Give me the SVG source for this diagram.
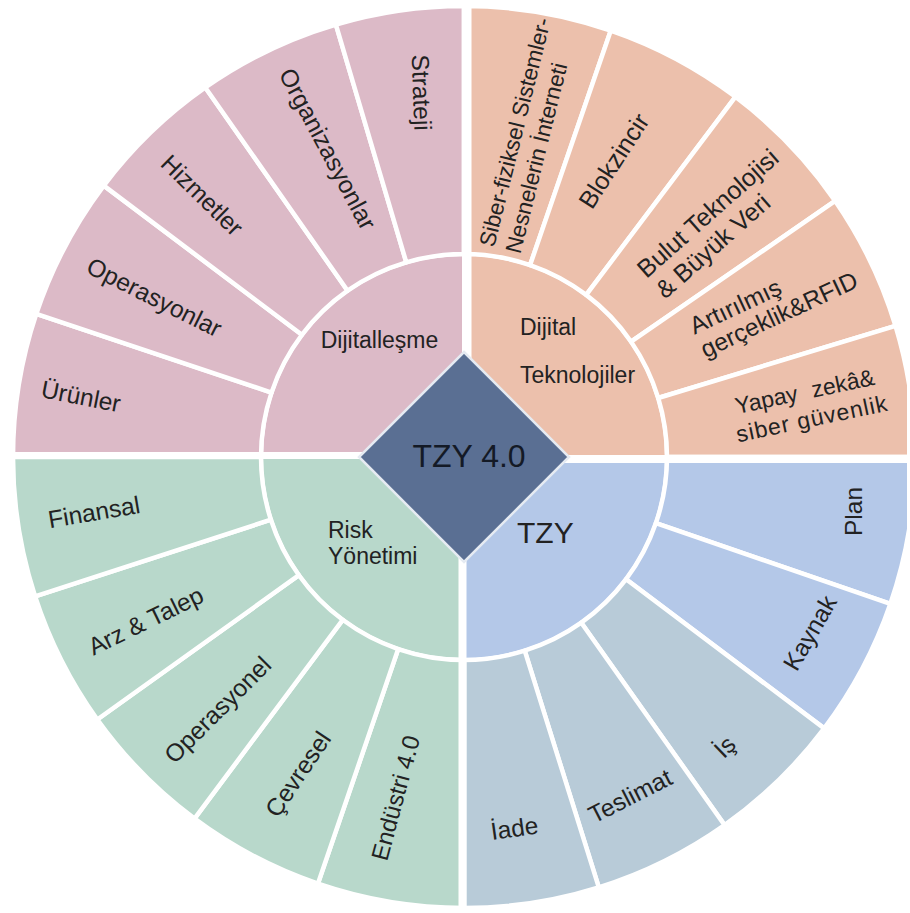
<svg xmlns="http://www.w3.org/2000/svg" width="910" height="913" viewBox="0 0 910 913">
  <defs>
    <style>
      .seg { stroke: #ffffff; stroke-width: 4.5; stroke-linejoin: round; }
      .core { stroke: #ffffff; stroke-width: 4; }
      .pink { fill: #dcbac7; }
      .peach { fill: #ecc0ac; }
      .green { fill: #b8d8cb; }
      .blue { fill: #b4c8e8; }
      .slate { fill: #b8cbd8; }
      text { font-family: "Liberation Sans", Arial, sans-serif; fill: #222222; }
      .lbl { font-size: 24.5px; }
      .hub { font-size: 23px; }
      .gap { stroke: #ffffff; fill: none; }
    </style>
    <clipPath id="frame">
      <rect x="0" y="0" width="907" height="913"/>
    </clipPath>
  </defs>

  <rect x="0" y="0" width="910" height="913" fill="#ffffff"/>

  <g id="wheel" clip-path="url(#frame)">
    <!-- Dijitalleşme quadrant -->
    <g id="dijitallesme">
      <path class="core pink" d="M464,457 L261,457 A203,203 0 0 1 464,254 Z"/>
      <text class="hub" x="379.5" y="348" text-anchor="middle">Dijitalleşme</text>
    </g>
    <g id="urunler">
      <path class="seg pink" d="M261,457 L13,457 A451,451 0 0 1 36.3,313.9 L271.5,392.6 A203,203 0 0 0 261,457 Z"/>
      <text class="lbl" transform="translate(40,397) rotate(11)">Ürünler</text>
    </g>
    <g id="operasyonlar">
      <path class="seg pink" d="M271.5,392.6 L36.3,313.9 A451,451 0 0 1 103.8,185.6 L301.9,334.8 A203,203 0 0 0 271.5,392.6 Z"/>
      <text class="lbl" transform="translate(84.8,272.1) rotate(26.5)">Operasyonlar</text>
    </g>
    <g id="hizmetler">
      <path class="seg pink" d="M301.9,334.8 L103.8,185.6 A451,451 0 0 1 205.3,87.5 L347.6,290.7 A203,203 0 0 0 301.9,334.8 Z"/>
      <text class="lbl" transform="translate(159.3,165) rotate(44.5)">Hizmetler</text>
    </g>
    <g id="organizasyonlar">
      <path class="seg pink" d="M347.6,290.7 L205.3,87.5 A451,451 0 0 1 335.9,24.6 L406.3,262.4 A203,203 0 0 0 347.6,290.7 Z"/>
      <text class="lbl" transform="translate(278.3,74.1) rotate(62)">Organizasyonlar</text>
    </g>
    <g id="strateji">
      <path class="seg pink" d="M406.3,262.4 L335.9,24.6 A451,451 0 0 1 464,6 L464,254 A203,203 0 0 0 406.3,262.4 Z"/>
      <text class="lbl" transform="translate(411.7,54.8) rotate(88)">Strateji</text>
    </g>

    <!-- Dijital Teknolojiler quadrant -->
    <g id="dijital-teknolojiler">
      <path class="core peach" d="M464,457 L464,254 A203,203 0 0 1 667,457 Z"/>
      <text class="hub" x="520" y="335">Dijital</text>
      <text class="hub" x="520" y="383">Teknolojiler</text>
    </g>
    <g id="siber-fiziksel">
      <path class="seg peach" d="M464,254 L464,6 A451,451 0 0 1 610.8,30.6 L530.1,265.1 A203,203 0 0 0 464,254 Z"/>
      <text style="font-size:22.5px" transform="translate(494,248) rotate(-76)">
        <tspan x="0" y="0">Siber-fiziksel  Sistemler-</tspan>
        <tspan x="0" y="27">Nesnelerin İnterneti</tspan>
      </text>
    </g>
    <g id="blokzincir">
      <path class="seg peach" d="M530.1,265.1 L610.8,30.6 A451,451 0 0 1 735.4,96.8 L586.2,294.9 A203,203 0 0 0 530.1,265.1 Z"/>
      <text style="font-size:25px" transform="translate(591.9,210.6) rotate(-57)">Blokzincir</text>
    </g>
    <g id="bulut">
      <path class="seg peach" d="M586.2,294.9 L735.4,96.8 A451,451 0 0 1 835.2,200.9 L631.1,341.7 A203,203 0 0 0 586.2,294.9 Z"/>
      <text style="font-size:25px" transform="translate(646.4,278.9) rotate(-41.5)">
        <tspan x="0" y="0">Bulut Teknolojisi</tspan>
        <tspan x="0" y="28">&amp; Büyük Veri</tspan>
      </text>
    </g>
    <g id="artirilmis">
      <path class="seg peach" d="M631.1,341.7 L835.2,200.9 A451,451 0 0 1 895.5,325.9 L658.2,398 A203,203 0 0 0 631.1,341.7 Z"/>
      <text class="lbl" transform="translate(694.6,334.7) rotate(-25)">
        <tspan x="0" y="0">Artırılmış</tspan>
        <tspan x="0" y="26">gerçeklik&amp;RFID</tspan>
      </text>
    </g>
    <g id="yapay-zeka">
      <path class="seg peach" d="M658.2,398 L895.5,325.9 A451,451 0 0 1 915,457 L667,457 A203,203 0 0 0 658.2,398 Z"/>
      <text style="font-size:23px" transform="translate(737,414) rotate(-12)">
        <tspan x="0" y="0" word-spacing="8">Yapay zekâ&amp;</tspan>
        <tspan x="-5" y="28" letter-spacing="1">siber güvenlik</tspan>
      </text>
    </g>

    <!-- TZY quadrant -->
    <g id="tzy">
      <path class="core blue" d="M464,457 L667,457 A203,203 0 0 1 464,660 Z"/>
      <text x="517" y="543" style="font-size:30px">TZY</text>
    </g>
    <g id="plan">
      <path class="seg blue" d="M667,457 L915,457 A451,451 0 0 1 890.4,603.8 L655.9,523.1 A203,203 0 0 0 667,457 Z"/>
      <text class="lbl" transform="translate(861.7,536) rotate(-90)">Plan</text>
    </g>
    <g id="kaynak">
      <path class="seg blue" d="M655.9,523.1 L890.4,603.8 A451,451 0 0 1 824.2,728.4 L626.1,579.2 A203,203 0 0 0 655.9,523.1 Z"/>
      <text class="lbl" transform="translate(796.8,672.5) rotate(-60)">Kaynak</text>
    </g>
    <g id="is">
      <path class="seg slate" d="M626.1,579.2 L824.2,728.4 A451,451 0 0 1 724.6,825.1 L581.3,622.7 A203,203 0 0 0 626.1,579.2 Z"/>
      <text class="lbl" text-anchor="middle" transform="translate(725,747) rotate(-44)" dy="8">İş</text>
    </g>
    <g id="teslimat">
      <path class="seg slate" d="M581.3,622.7 L724.6,825.1 A451,451 0 0 1 598.8,887.4 L524.7,650.7 A203,203 0 0 0 581.3,622.7 Z"/>
      <text class="lbl" transform="translate(594,824) rotate(-27)">Teslimat</text>
    </g>
    <g id="iade">
      <path class="seg slate" d="M524.7,650.7 L598.8,887.4 A451,451 0 0 1 464,908 L464,660 A203,203 0 0 0 524.7,650.7 Z"/>
      <text class="lbl" transform="translate(492,840) rotate(-8)">İade</text>
    </g>

    <!-- Risk Yönetimi quadrant -->
    <g id="risk-yonetimi">
      <path class="core green" d="M464,457 L464,660 A203,203 0 0 1 261,457 Z"/>
      <text class="hub" x="328" y="538">Risk</text>
      <text class="hub" x="328" y="564">Yönetimi</text>
    </g>
    <g id="endustri">
      <path class="seg green" d="M464,660 L464,908 A451,451 0 0 1 317.9,883.7 L398.2,649.1 A203,203 0 0 0 464,660 Z"/>
      <text style="font-size:24px" transform="translate(387,861.9) rotate(-75)">Endüstri 4.0</text>
    </g>
    <g id="cevresel">
      <path class="seg green" d="M398.2,649.1 L317.9,883.7 A451,451 0 0 1 194.5,818.6 L342.7,619.8 A203,203 0 0 0 398.2,649.1 Z"/>
      <text class="lbl" transform="translate(278,818.9) rotate(-56)">Çevresel</text>
    </g>
    <g id="operasyonel">
      <path class="seg green" d="M342.7,619.8 L194.5,818.6 A451,451 0 0 1 97.3,719.5 L298.9,575.2 A203,203 0 0 0 342.7,619.8 Z"/>
      <text class="lbl" transform="translate(174.6,764.8) rotate(-45)">Operasyonel</text>
    </g>
    <g id="arz-talep">
      <path class="seg green" d="M298.9,575.2 L97.3,719.5 A451,451 0 0 1 35.1,596.4 L270.9,519.7 A203,203 0 0 0 298.9,575.2 Z"/>
      <text class="lbl" transform="translate(93.4,655.8) rotate(-26)">Arz &amp; Talep</text>
    </g>
    <g id="finansal">
      <path class="seg green" d="M270.9,519.7 L35.1,596.4 A451,451 0 0 1 13,457 L261,457 A203,203 0 0 0 270.9,519.7 Z"/>
      <text class="lbl" transform="translate(49.8,528.2) rotate(-9.6)">Finansal</text>
    </g>
  </g>

  <!-- white channels between the four quadrants -->
  <g id="separators" class="gap">
    <line x1="467.5" y1="0" x2="467.5" y2="457" stroke-width="8"/>
    <line x1="462.5" y1="457" x2="462.5" y2="913" stroke-width="8"/>
    <line x1="0" y1="455" x2="464" y2="455" stroke-width="6"/>
    <line x1="464" y1="460" x2="910" y2="460" stroke-width="6"/>
  </g>

  <!-- central hub -->
  <g id="tzy-40">
    <polygon points="464,352 569,457 464,562 359,457" fill="#5a6f93" stroke="#e6ebf2" stroke-width="2.5"/>
    <text x="469" y="467" text-anchor="middle" style="font-size:32px; fill:#141a26">TZY 4.0</text>
  </g>
</svg>
